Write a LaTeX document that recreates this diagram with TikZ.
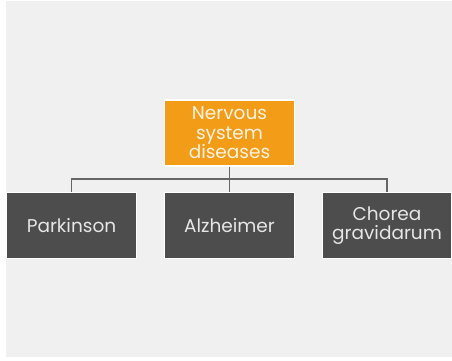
\documentclass[tikz,border=0pt]{standalone}
\usepackage{fontspec}
\setmainfont{Poppins}
\definecolor{bg}{HTML}{F0F0F0}
\definecolor{orng}{HTML}{F39C17}
\definecolor{dgray}{HTML}{4D4D4D}
\definecolor{lgray}{HTML}{E6E6E6}
\definecolor{conn}{HTML}{666666}
\tikzset{
  box/.style={draw=white, line width=1.5pt, minimum width=130pt, minimum height=66pt, inner sep=0pt,
    align=center, font=\fontsize{18.5}{19.5}\selectfont, text=lgray},
  topbox/.style={box, fill=orng, text=white!88!orng},
  leafbox/.style={box, fill=dgray},
  link/.style={draw=conn, line width=1.8pt}
}
\begin{document}
\begin{tikzpicture}[x=1pt,y=-1pt]
\useasboundingbox (0,0) rectangle (452,361);
\fill[white] (0,0) rectangle (452,361);
\fill[bg] (6,1) rectangle (452,357);
\node[topbox] (top) at (229.5,133) {Nervous\\system\\diseases};
\node[leafbox] (p) at (71.5,225.5) {Parkinson};
\node[leafbox] (a) at (229.5,225.5) {Alzheimer};
\node[leafbox, minimum width=129pt] (c) at (387,225.5) {Chorea\\gravidarum};
\coordinate (j) at (229.5,179);
\draw[link] (top.south) -- (a.north);
\draw[link] (p.north) -- (p.north |- j) -- (c.north |- j) -- (c.north);
\end{tikzpicture}
\end{document}
